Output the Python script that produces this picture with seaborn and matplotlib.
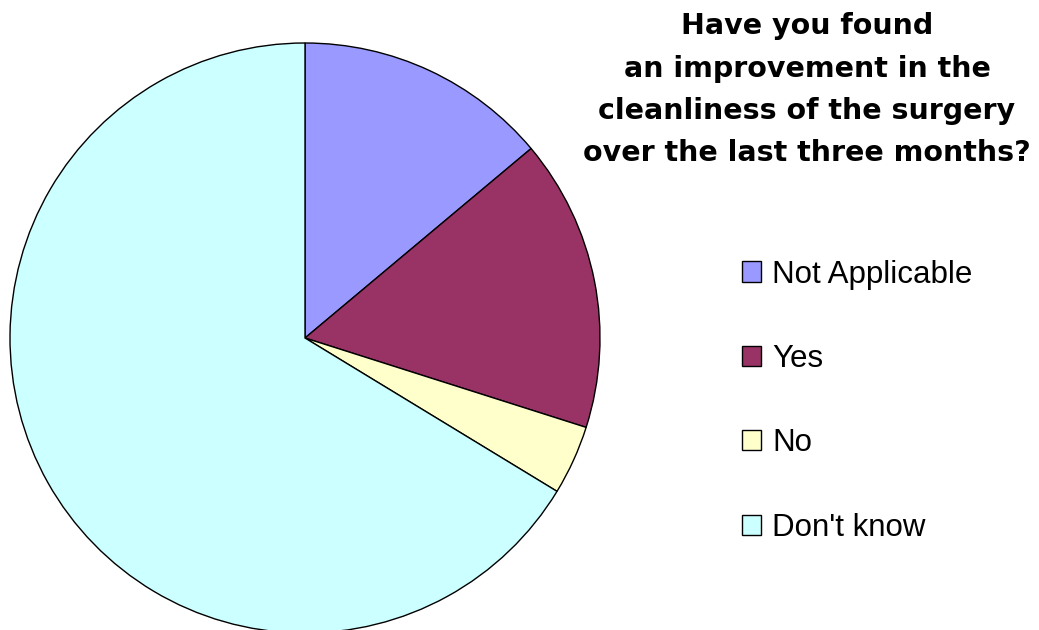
import matplotlib
matplotlib.use("Agg")
import matplotlib.pyplot as plt
import seaborn as sns

sns.set_theme(style="white")
plt.rcParams['font.family'] = ['Liberation Sans', 'DejaVu Sans']
plt.rcParams['text.color'] = 'black'

categories = ["Not Applicable", "Yes", "No", "Don't know"]
values = [13.9, 16.0, 3.8, 66.3]
colors = ["#9999FF", "#993366", "#FFFFCC", "#CCFFFF"]
title_lines = ["Have you found", "an improvement in the",
               "cleanliness of the surgery", "over the last three months?"]

W, H = 1039, 630
fig = plt.figure(figsize=(W / 100, H / 100), dpi=100)
fig.patch.set_facecolor("white")

cx, cy, r = 305, 338, 295
ax = fig.add_axes([(cx - r) / W, (H - cy - r) / H, 2 * r / W, 2 * r / H])
wedges, _ = ax.pie(values, colors=colors, startangle=90, counterclock=False,
                   wedgeprops=dict(edgecolor="black", linewidth=1.0))
for w in wedges:
    w.set_clip_on(False)
ax.set_xlim(-1, 1)
ax.set_ylim(-1, 1)
ax.set_aspect("equal")
ax.axis("off")

baselines = [34, 77, 119, 161]
for line, b in zip(title_lines, baselines):
    fig.text(807 / W, 1 - b / H, line, ha="center", va="baseline",
             fontsize=20.5, fontweight="bold", family=["DejaVu Sans"], color="black")

leg = fig.legend(wedges, categories, loc="upper left",
                 bbox_to_anchor=(742 / W, 1 - 259.5 / H),
                 frameon=False, fontsize=22.5,
                 handlelength=0.61, handleheight=0.61, handletextpad=0.35,
                 labelspacing=1.74, borderpad=0, borderaxespad=0)
for t in leg.get_texts():
    t.set_color("black")
for h in leg.legend_handles:
    h.set_edgecolor("black")
    h.set_linewidth(1.0)

fig.savefig("out.png", dpi=100, facecolor="white")
